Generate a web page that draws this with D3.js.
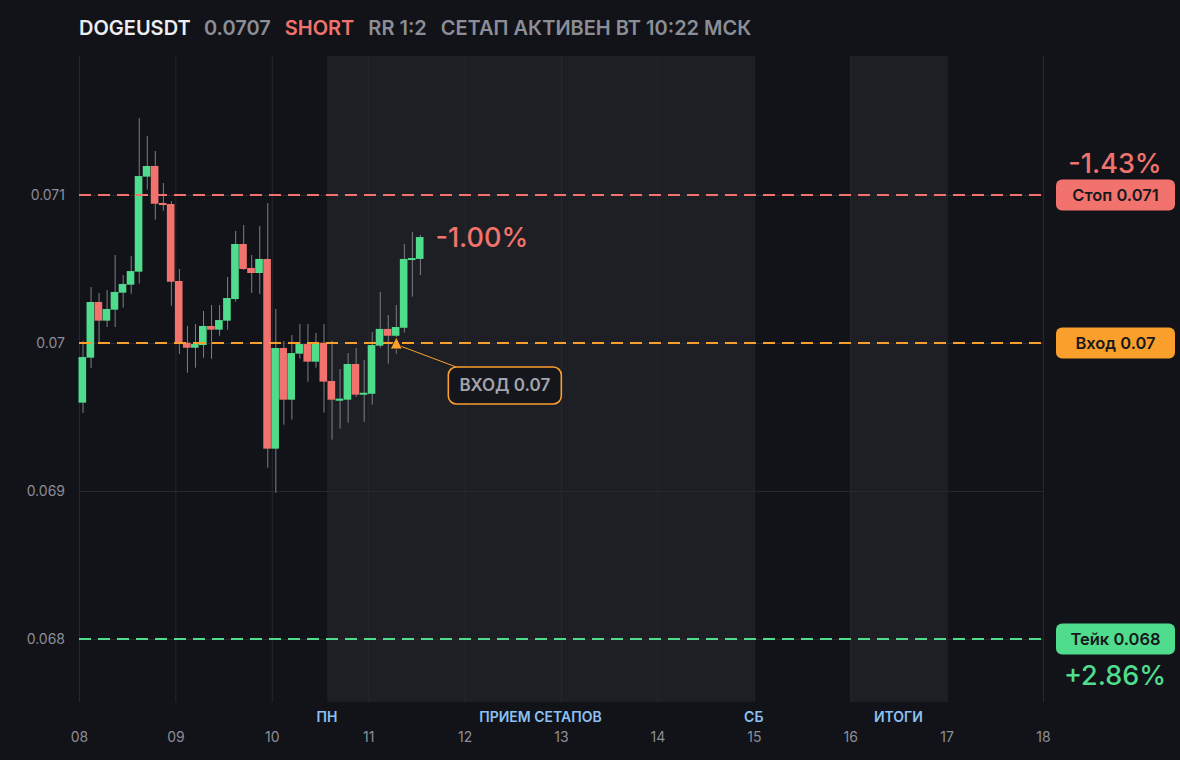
<!DOCTYPE html>
<html>
<head>
<meta charset="utf-8">
<script src="https://cdn.jsdelivr.net/npm/d3@7/dist/d3.min.js"></script>
<style>
	html, body { margin: 0; padding: 0; background: #121318; }
	svg { display: block; font-family: Inter, "Noto Sans", sans-serif; }
</style>
</head>
<body>
<svg id="chart" width="1180" height="760"></svg>
<script>
/*=================================
	DATA
**===============================*/

//2h candles, first one opens on the 8th at 00:00
var startDay = 8,
	candleHours = 2;

var openP = [0.069597, 0.069901, 0.070277, 0.070151, 0.070225, 0.070340, 0.070394, 0.070482, 0.071124, 0.071196,
	0.070946, 0.070939, 0.070419, 0.070002, 0.069968, 0.069986, 0.070115, 0.070090, 0.070151, 0.070297,
	0.070669, 0.070507, 0.070473, 0.070568, 0.069286, 0.069966, 0.069617, 0.069928, 0.069993, 0.069874,
	0.070002, 0.069743, 0.069610, 0.069617, 0.069858, 0.069651, 0.069657, 0.069982, 0.070095, 0.070049,
	0.070103, 0.070563, 0.070568];
var highP = [0.070014, 0.070378, 0.070338, 0.070358, 0.070595, 0.070459, 0.070588, 0.071520, 0.071399, 0.071297,
	0.071081, 0.070959, 0.070500, 0.070115, 0.070128, 0.070216, 0.070257, 0.070257, 0.070446, 0.070757,
	0.070797, 0.070595, 0.070791, 0.070946, 0.070230, 0.070014, 0.070054, 0.070128, 0.070128, 0.070068,
	0.070128, 0.070016, 0.069824, 0.069932, 0.069966, 0.069885, 0.070074, 0.070345, 0.070189, 0.070257,
	0.070669, 0.070750, 0.070730];
var lowP = [0.069527, 0.069831, 0.070000, 0.070108, 0.070108, 0.070239, 0.070333, 0.070401, 0.071036, 0.070833,
	0.070894, 0.070252, 0.069926, 0.069799, 0.069833, 0.069901, 0.069894, 0.070049, 0.070090, 0.070279,
	0.070493, 0.070338, 0.070331, 0.069157, 0.068988, 0.069448, 0.069482, 0.069894, 0.069739, 0.069833,
	0.069529, 0.069347, 0.069421, 0.069461, 0.069637, 0.069468, 0.069583, 0.069968, 0.069860, 0.069928,
	0.070070, 0.070313, 0.070459];
var closeP = [0.069905, 0.070277, 0.070151, 0.070230, 0.070345, 0.070399, 0.070486, 0.071128, 0.071196, 0.070941,
	0.070932, 0.070414, 0.070002, 0.069968, 0.069993, 0.070115, 0.070090, 0.070155, 0.070304, 0.070669,
	0.070500, 0.070473, 0.070568, 0.069286, 0.069966, 0.069617, 0.069932, 0.069993, 0.069874, 0.070002,
	0.069739, 0.069617, 0.069624, 0.069858, 0.069651, 0.069664, 0.069986, 0.070095, 0.070049, 0.070108,
	0.070568, 0.070574, 0.070716];

//Setup levels
var levelNames = ["Стоп", "Вход", "Тейк"];
var levelPrices = [0.071, 0.07, 0.068];
var levelPct = ["-1.43%", null, "+2.86%"];
var entryIndex = 39;
var livePct = "-1.00%";

//Shaded periods + labels under them (days)
var bandStart = [10.573, 16];
var bandEnd = [15, 17];
var zoneLabels = ["ПН", "ПРИЕМ СЕТАПОВ", "СБ", "ИТОГИ"];
var zoneDays = [10.573, 12.787, 15, 16.5];

//Ticks
var yTicks = [0.068, 0.069, 0.07, 0.071];
var xTicks = [8, 9, 10, 11, 12, 13, 14, 15, 16, 17, 18];

//Header
var headerParts = ["DOGEUSDT", "0.0707", "SHORT", "RR 1:2", "СЕТАП АКТИВЕН ВТ 10:22 МСК"];
var headerColors = ["#eceef2", "#8b8e97", "#f2736d", "#8b8e97", "#8b8e97"];

/*=================================
	SETUP
**===============================*/

var GREEN = "#4fdc8c",
	RED = "#f2736d",
	ORANGE = "#fb9f2c",
	GRID = "#26282e",
	TXT = "#8b8e97";

var plotTop = 56,
	plotBottom = 702;

var svg = d3.select("#chart");

var x = d3.scaleLinear().domain([8, 18]).range([79, 1043]);
var y = d3.scaleLinear().domain([0.068, 0.071]).range([639, 195]);

var candles = openP.map(function (o, i) {
	var t = startDay + i * candleHours / 24;
	return { t: t, t1: t + candleHours / 24, o: o, h: highP[i], l: lowP[i], c: closeP[i] };
});

/*=================================
	BACKGROUND BANDS + GRID
**===============================*/

svg.append("g").selectAll("rect")
	.data(bandStart)
	.join("rect")
	.attr("x", function (d) { return x(d); })
	.attr("width", function (d, i) { return x(bandEnd[i]) - x(d); })
	.attr("y", plotTop)
	.attr("height", plotBottom - plotTop)
	.attr("fill", "#1e1f24");

var xGrid = svg.append("g")
	.attr("transform", "translate(0," + plotBottom + ")")
	.call(d3.axisBottom(x).tickValues(xTicks).tickSize(-(plotBottom - plotTop)).tickFormat(""));
xGrid.select(".domain").remove();
xGrid.selectAll("line").attr("stroke", GRID);

var yGrid = svg.append("g")
	.attr("transform", "translate(" + x(8) + ",0)")
	.call(d3.axisLeft(y).tickValues(yTicks).tickSize(-(x(18) - x(8))).tickFormat(""));
yGrid.select(".domain").remove();
yGrid.selectAll("line").attr("stroke", GRID);

/*=================================
	AXES LABELS
**===============================*/

var yAxis = svg.append("g")
	.attr("transform", "translate(65,0)")
	.call(d3.axisLeft(y).tickValues(yTicks).tickSize(0).tickPadding(0)
		.tickFormat(function (d) { return String(+d.toFixed(3)); }));
yAxis.select(".domain").remove();
yAxis.selectAll("text")
	.attr("fill", TXT)
	.style("font-size", "14px")
	.style("font-family", "Inter, sans-serif");

var xAxis = svg.append("g")
	.attr("transform", "translate(0,732)")
	.call(d3.axisBottom(x).tickValues(xTicks).tickSize(0).tickPadding(0).tickFormat(d3.format("02d")));
xAxis.select(".domain").remove();
xAxis.selectAll("text")
	.attr("fill", TXT)
	.style("font-size", "14px")
	.style("font-family", "Inter, sans-serif");

svg.append("g").selectAll("text")
	.data(zoneLabels)
	.join("text")
	.attr("x", function (d, i) { return x(zoneDays[i]); })
	.attr("y", 722)
	.attr("text-anchor", "middle")
	.attr("fill", "#8cc1f5")
	.style("font-size", "14px")
	.style("font-weight", 600)
	.text(function (d) { return d; });

/*=================================
	CANDLES
**===============================*/

var gCandles = svg.append("g");

gCandles.selectAll("line")
	.data(candles)
	.join("line")
	.attr("x1", function (d) { return (x(d.t) + x(d.t1)) / 2; })
	.attr("x2", function (d) { return (x(d.t) + x(d.t1)) / 2; })
	.attr("y1", function (d) { return y(d.h); })
	.attr("y2", function (d) { return y(d.l); })
	.attr("stroke", "#7b7e86")
	.attr("stroke-width", 1);

gCandles.selectAll("rect")
	.data(candles)
	.join("rect")
	.attr("x", function (d) { return x(d.t) - 0.5; })
	.attr("width", function (d) { return x(d.t1) - x(d.t) - 0.4; })
	.attr("y", function (d) { return y(Math.max(d.o, d.c)); })
	.attr("height", function (d) { return Math.max(2, Math.abs(y(d.o) - y(d.c))); })
	.attr("fill", function (d) { return d.c >= d.o ? GREEN : RED; });

/*=================================
	LEVEL LINES + RIGHT LABELS
**===============================*/

var levelColors = [RED, ORANGE, GREEN];

svg.append("g").selectAll("line")
	.data(levelPrices)
	.join("line")
	.attr("x1", x(8))
	.attr("x2", x(18))
	.attr("y1", function (d) { return y(d); })
	.attr("y2", function (d) { return y(d); })
	.attr("stroke", function (d, i) { return levelColors[i]; })
	.attr("stroke-width", 2)
	.attr("stroke-dasharray", "12 7");

var pills = svg.append("g").selectAll("g")
	.data(levelPrices)
	.join("g")
	.attr("transform", function (d) { return "translate(1056," + y(d) + ")"; });

pills.append("rect")
	.attr("x", 0)
	.attr("y", -15.5)
	.attr("width", 119)
	.attr("height", 31)
	.attr("rx", 6)
	.attr("fill", function (d, i) { return levelColors[i]; });

pills.append("text")
	.attr("x", 59.5)
	.attr("y", 6)
	.attr("text-anchor", "middle")
	.attr("fill", "#17181c")
	.style("font-size", "16.5px")
	.style("font-weight", 600)
	.text(function (d, i) { return levelNames[i] + " " + String(+d.toFixed(3)); });

pills.append("text")
	.attr("x", 59)
	.attr("y", function (d, i) { return i === 0 ? -22 : 46; })
	.attr("text-anchor", "middle")
	.attr("fill", function (d, i) { return levelColors[i]; })
	.style("font-size", "27px")
	.style("font-weight", 500)
	.text(function (d, i) { return levelPct[i] || ""; });

/*=================================
	ENTRY MARKER + CALLOUT
**===============================*/

var entry = candles[entryIndex],
	ex = (x(entry.t) + x(entry.t1)) / 2,
	ey = y(levelPrices[1]);

svg.append("line")
	.attr("x1", ex + 4)
	.attr("y1", ey + 3)
	.attr("x2", ex + 60)
	.attr("y2", ey + 24)
	.attr("stroke", ORANGE)
	.attr("stroke-width", 1);

svg.append("path")
	.attr("d", "M" + (ex - 6) + "," + (ey + 6) + "L" + ex + "," + (ey - 6) + "L" + (ex + 6) + "," + (ey + 6) + "Z")
	.attr("fill", ORANGE)
	.attr("stroke", "#121318")
	.attr("stroke-width", 0.8);

var callout = svg.append("g")
	.attr("transform", "translate(" + (ex + 52) + "," + (ey + 24) + ")");

callout.append("rect")
	.attr("width", 113)
	.attr("height", 37)
	.attr("rx", 8)
	.attr("fill", "#15161b")
	.attr("stroke", ORANGE)
	.attr("stroke-width", 1.6);

callout.append("text")
	.attr("x", 56.5)
	.attr("y", 24)
	.attr("text-anchor", "middle")
	.attr("fill", "#a2a5ad")
	.style("font-size", "17px")
	.style("font-weight", 600)
	.text("ВХОД " + String(levelPrices[1]));

//Live % next to last candle
var last = candles[candles.length - 1];
svg.append("text")
	.attr("x", x(last.t1) + 11)
	.attr("y", y(last.c) + 10)
	.attr("fill", RED)
	.style("font-size", "27px")
	.style("font-weight", 500)
	.text(livePct);

/*=================================
	HEADER
**===============================*/

var header = svg.append("text")
	.attr("x", 79)
	.attr("y", 35)
	.style("font-size", "20px")
	.style("font-weight", 600);

header.selectAll("tspan")
	.data(headerParts)
	.join("tspan")
	.attr("dx", function (d, i) { return i === 0 ? 0 : 14; })
	.attr("fill", function (d, i) { return headerColors[i]; })
	.text(function (d) { return d; });
</script>
</body>
</html>
